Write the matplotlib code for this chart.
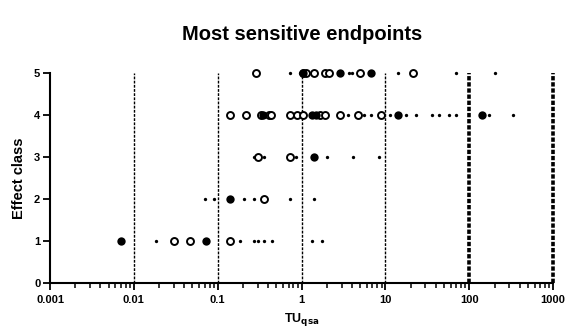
import numpy as np
import matplotlib.pyplot as plt
from matplotlib.ticker import FixedLocator, NullFormatter

plt.rcParams['font.family'] = ['Liberation Sans', 'DejaVu Sans']
plt.rcParams['font.weight'] = 'bold'

# TU values per effect class, split by marker type
small_x = [0.72, 0.95, 3.63, 3.98, 14, 68.7, 205,
           3.53, 5.57, 6.76, 11.2, 17.5, 22.9, 35.6, 44, 57.3, 68.7, 173, 334,
           0.268, 0.353, 0.85, 2.0, 4.1, 8.4,
           0.0714, 0.0896, 0.204, 0.268, 0.72, 1.39,
           0.0183, 0.185, 0.272, 0.30, 0.357, 0.449, 1.35, 1.77]
small_y = [5] * 7 + [4] * 12 + [3] * 6 + [2] * 6 + [1] * 8

open_x = [0.286, 1.04, 1.12, 1.39, 1.91, 2.15, 5.0, 21.5,
          0.139, 0.22, 0.33, 0.41, 0.436, 0.73, 0.88, 1.04, 1.65, 1.9, 2.89, 4.68, 8.89,
          0.30, 0.72,
          0.36,
          0.030, 0.0469, 0.14]
open_y = [5] * 8 + [4] * 13 + [3] * 2 + [2] + [1] * 3

big_x = [1.05, 2.89, 6.76,
         0.35, 1.35, 1.5, 14, 140,
         1.41,
         0.139,
         0.007, 0.072]
big_y = [5] * 3 + [4] * 5 + [3] + [2] + [1] * 2

thin_lines = [0.01, 0.1, 1, 10]
thick_lines = [100, 1000]
decades = [0.001, 0.01, 0.1, 1, 10, 100, 1000]

fig = plt.figure(figsize=(5.65, 3.36), dpi=100)
ax = fig.add_axes([0.0885, 0.158, 0.8905, 0.625])

for v in thin_lines:
    ax.plot([v, v], [0, 5], color='black', lw=1.0, ls=(0, (2, 1)), zorder=1)
for v in thick_lines:
    ax.plot([v, v], [0, 5], color='black', lw=2.6, ls=(0, (1.2, 0.5)), zorder=1,
            clip_on=False)

ax.plot(small_x, small_y, 'o', color='black', ms=2.4, mew=0, clip_on=False, zorder=3)
ax.plot(open_x, open_y, 'o', mfc='white', mec='black', ms=5.0, mew=1.4,
        clip_on=False, zorder=4)
ax.plot(big_x, big_y, 'o', color='black', ms=6.0, mew=0, clip_on=False, zorder=5)

ax.set_xscale('log')
ax.set_xlim(0.001, 1000)
ax.set_ylim(0, 5)
ax.set_xticks(decades)
ax.set_xticklabels(['0.001', '0.01', '0.1', '1', '10', '100', '1000'])
minors = [d * k for d in decades[:-1] for k in range(2, 10)]
ax.xaxis.set_minor_locator(FixedLocator(minors))
ax.xaxis.set_minor_formatter(NullFormatter())
ax.set_yticks([0, 1, 2, 3, 4, 5])

for s in ['top', 'right']:
    ax.spines[s].set_visible(False)
for s in ['left', 'bottom']:
    ax.spines[s].set_linewidth(1.5)

ax.tick_params(axis='both', which='major', direction='out', length=5, width=1.3,
               labelsize=8, pad=2)
ax.tick_params(axis='x', which='minor', direction='out', length=3.5, width=1.1)
ax.tick_params(axis='x', which='major', pad=4)
for lab in ax.get_xticklabels() + ax.get_yticklabels():
    lab.set_fontweight('bold')

ax.set_xlabel('TU$_{\\mathbf{qsa}}$', fontsize=9, fontweight='bold', labelpad=4)
ax.set_ylabel('Effect class', fontsize=10.5, fontweight='bold', labelpad=6)
fig.suptitle('Most sensitive endpoints', x=0.535, y=0.925, fontsize=14.5,
             fontweight='bold')

fig.savefig('out.png', dpi=100)
